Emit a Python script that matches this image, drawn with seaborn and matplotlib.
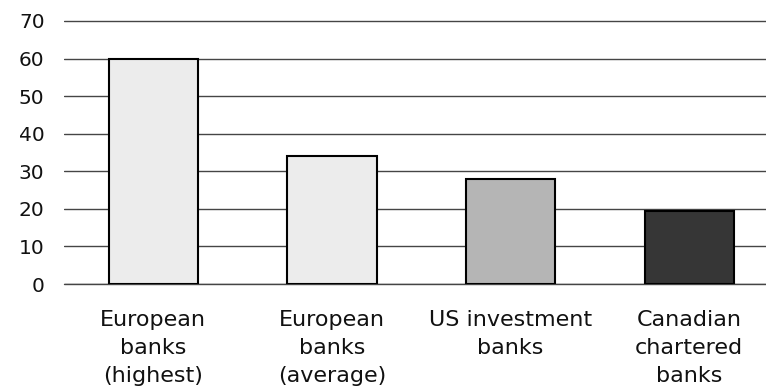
import matplotlib
matplotlib.use("Agg")
import matplotlib.pyplot as plt
import seaborn as sns
import pandas as pd

categories = ["European\nbanks\n(highest)", "European\nbanks\n(average)",
              "US investment\nbanks", "Canadian\nchartered\nbanks"]
values = [60, 34, 28, 19.5]
colors = ["#ececec", "#ececec", "#b5b5b5", "#363636"]
yticks = [0, 10, 20, 30, 40, 50, 60, 70]

sns.set_style("white")
plt.rcParams["font.family"] = ["DejaVu Sans"]

df = pd.DataFrame({"group": categories, "value": values})

fig = plt.figure(figsize=(7.66, 3.90), dpi=100)
ax = fig.add_axes([64 / 766, 1 - 284 / 390, 1 - 64 / 766, (284 - 17.2) / 390])

sns.barplot(data=df, x="group", y="value", hue="group", palette=colors,
            legend=False, width=0.5, edgecolor="black", linewidth=1.5,
            ax=ax, zorder=3)

ax.set_ylim(0, 71)
ax.set_xlim(-0.5, 3.43)
ax.set_yticks(yticks)
ax.yaxis.grid(True, color="#454545", linewidth=1.0, zorder=0)
ax.axhline(0, color="#454545", linewidth=1.0, zorder=1, clip_on=False)
ax.set_axisbelow(True)
for s in ax.spines.values():
    s.set_visible(False)
ax.set_xlabel("")
ax.set_ylabel("")
ax.tick_params(axis="y", length=0, pad=14, labelsize=14.5, colors="#111111")
ax.tick_params(axis="x", length=0, pad=19, labelsize=16, colors="#111111")
for lbl in ax.get_xticklabels():
    lbl.set_linespacing(1.5)

fig.savefig("out.png", dpi=100)
